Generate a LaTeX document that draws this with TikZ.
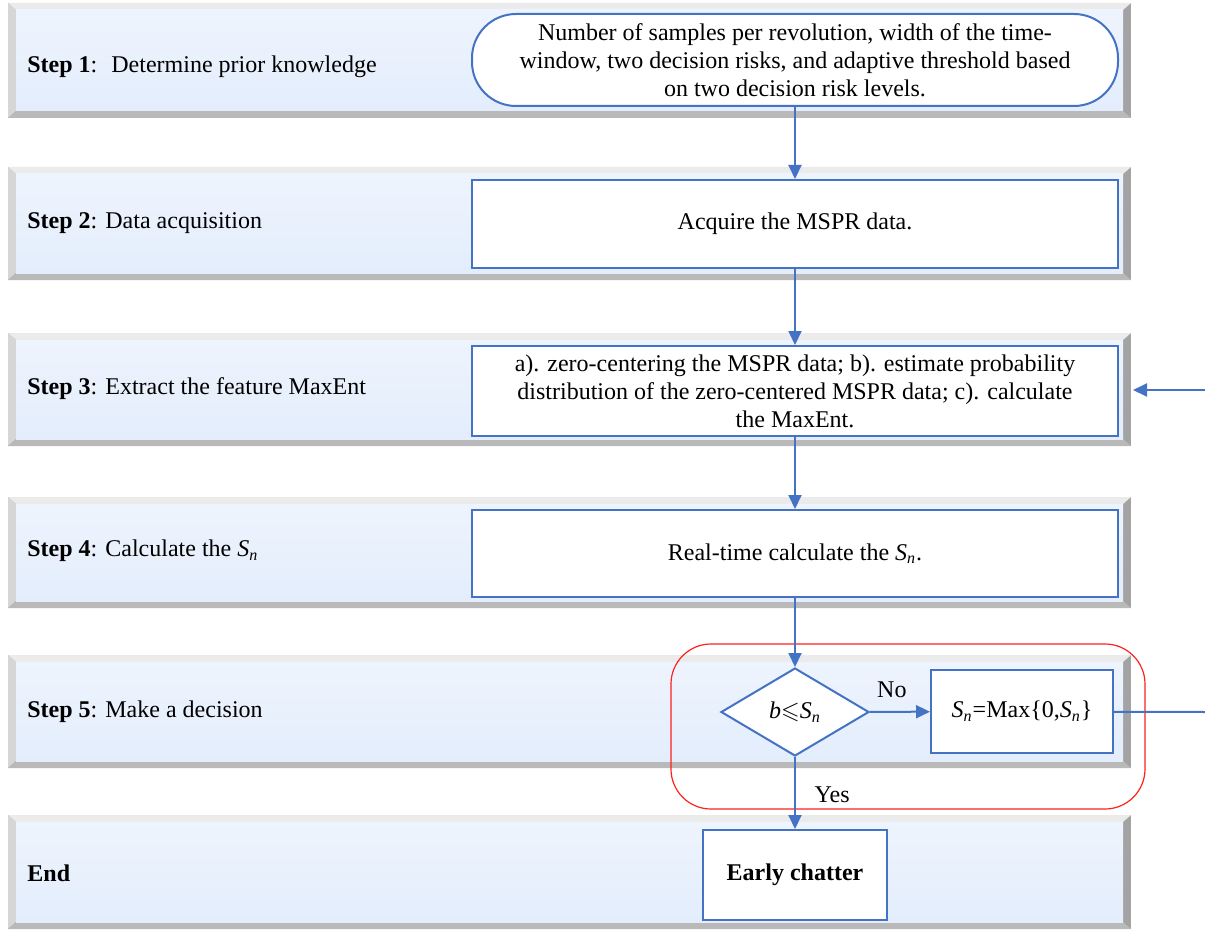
\documentclass[tikz,border=0pt]{standalone}
\usepackage{amssymb}
\usepackage{fontspec}
\setmainfont{Liberation Serif}
\usetikzlibrary{shapes.geometric,arrows.meta}
\definecolor{flowblue}{HTML}{4472C4}
\definecolor{bandfill}{HTML}{E3EDFC}
\definecolor{bandlight}{HTML}{EEF4FD}
\definecolor{framered}{HTML}{FF2020}

\begin{document}
\begin{tikzpicture}[x=0.5pt,y=-0.5pt]
		\tikzstyle{every node}+=[font=\fontsize{12pt}{14pt}\selectfont]
		\tikzstyle{flowbox}=[draw=flowblue, line width=1pt, fill=white, align=center, inner sep=0pt]
		\tikzstyle{flowline}=[draw=flowblue, line width=1pt]
		\tikzstyle{flowarrow}=[flowline, -{Triangle[length=7pt,width=6.5pt]}]
		\tikzstyle{steplabel}=[anchor=west, inner sep=0pt]
		\useasboundingbox (0,0) rectangle (1205,931);
		\foreach \t/\b in {3/118,167/280,333/446,497/608,655/768,815/929} {
			\fill[gray!72] (8,\t) rectangle (1131,\b);
			\fill[gray!16] (8,\t) -- (1131,\t) -- (1123,{\t+7}) -- (16,{\t+7}) -- cycle;
			\fill[gray!32] (8,\t) -- (16,{\t+7}) -- (16,{\b-7}) -- (8,\b) -- cycle;
			\fill[gray!55] (8,\b) -- (16,{\b-7}) -- (1123,{\b-7}) -- (1131,\b) -- cycle;
			\shade[top color=bandlight, bottom color=bandfill] (16,{\t+7}) rectangle (1123,{\b-7});
		}
		\draw[framered, line width=0.6pt, rounded corners=20pt] (671,644) rectangle (1145,809);
		\node[steplabel] (lbl1) at (27,67) {\textbf{Step 1}:~ Determine prior knowledge};
		\node[steplabel] (lbl2) at (27,223) {\textbf{Step 2}: Data acquisition};
		\node[steplabel] (lbl3) at (27,389) {\textbf{Step 3}: Extract the feature MaxEnt};
		\node[steplabel] (lbl4) at (27,551) {\textbf{Step 4}: Calculate the \textit{S}\textsubscript{\textit{n}}};
		\node[steplabel] (lbl5) at (27,712) {\textbf{Step 5}: Make a decision};
		\node[steplabel] (lbl6) at (27,873) {\textbf{End}};
		\node[flowbox, rounded corners=22pt, minimum width=323pt, minimum height=46pt] (prior) at (795,60) {Number of samples per revolution, width of the time-\\window, two decision risks, and adaptive threshold based\\on two decision risk levels.};
		\node[flowbox, minimum width=323pt, minimum height=44pt] (acquire) at (795,224) {Acquire the MSPR data.};
		\node[flowbox, minimum width=323pt, minimum height=45pt] (extract) at (795,391) {a). zero-centering the MSPR data; b). estimate probability\\distribution of the zero-centered MSPR data; c). calculate\\the MaxEnt.};
		\node[flowbox, minimum width=323pt, minimum height=43.5pt] (calc) at (795,553.5) {Real-time calculate the \textit{S}\textsubscript{\textit{n}}.};
		\node[flowbox, diamond, minimum width=74pt, minimum height=44pt] (decide) at (795,712) {\textit{b}$\leqslant$\textit{S}\textsubscript{\textit{n}}};
		\node[flowbox, minimum width=91pt, minimum height=41.5pt] (reset) at (1022,711.5) {\textit{S}\textsubscript{\textit{n}}=Max\{0,\textit{S}\textsubscript{\textit{n}}\}};
		\node[flowbox, minimum width=92pt, minimum height=45pt] (chatter) at (795,875) {\textbf{Early chatter}};
		\coordinate (fbout) at (1205,712);
		\coordinate (fbin) at (1205,390);
		\coordinate (fbend) at (1133,390);
		\draw[flowarrow] (prior) -- (acquire);
		\draw[flowarrow] (acquire) -- (extract);
		\draw[flowarrow] (extract) -- (calc);
		\draw[flowarrow] (calc) -- (decide);
		\draw[flowarrow] (decide) -- node[above=3pt, xshift=-4pt] {No} (reset);
		\draw[flowarrow] (decide) -- node[pos=0.53, right=6pt] {Yes} (chatter);
		\draw[flowline] (reset) -- (fbout);
		\draw[flowarrow] (fbin) -- (fbend);
\end{tikzpicture}
\end{document}
